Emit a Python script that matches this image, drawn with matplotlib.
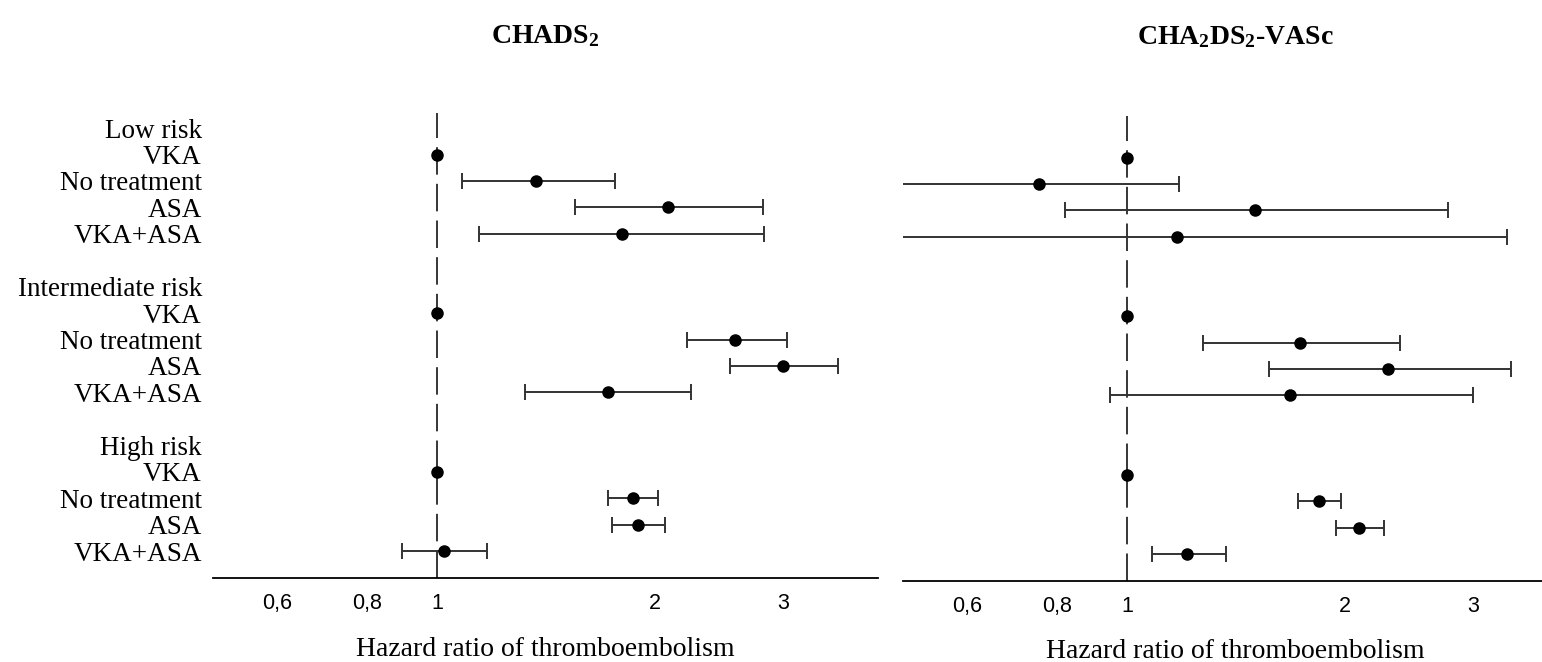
import matplotlib.pyplot as plt
import numpy as np

nan = np.nan

# blank strings are the spacer rows between risk groups
row_labels = ["Low risk", "VKA", "No treatment", "ASA", "VKA+ASA", "",
              "Intermediate risk", "VKA", "No treatment", "ASA", "VKA+ASA", "",
              "High risk", "VKA", "No treatment", "ASA", "VKA+ASA"]

chads_hr = [nan, 1.0, 1.37, 2.08, 1.80, nan, nan, 1.0, 2.58, 3.00, 1.72, nan, nan, 1.0, 1.86, 1.89, 1.02]
chads_lo = [nan, nan, 1.08, 1.55, 1.14, nan, nan, nan, 2.21, 2.54, 1.32, nan, nan, nan, 1.72, 1.74, 0.895]
chads_hi = [nan, nan, 1.76, 2.82, 2.83, nan, nan, nan, 3.04, 3.57, 2.24, nan, nan, nan, 2.02, 2.06, 1.17]

vasc_hr = [nan, 1.0, 0.754, 1.50, 1.17, nan, nan, 1.0, 1.73, 2.29, 1.68, nan, nan, 1.0, 1.84, 2.09, 1.21]
vasc_lo = [nan, nan, 0.45, 0.821, 0.42, nan, nan, nan, 1.27, 1.57, 0.947, nan, nan, nan, 1.72, 1.94, 1.08]
vasc_hi = [nan, nan, 1.18, 2.77, 3.34, nan, nan, nan, 2.38, 3.39, 3.00, nan, nan, nan, 1.97, 2.26, 1.37]

tick_values = [0.6, 0.8, 1, 2, 3]
tick_labels = ["0,6", "0,8", "1", "2", "3"]

serif = "Liberation Serif"
sans = ["Liberation Sans Narrow", "Liberation Sans"]
plt.rcParams["mathtext.fontset"] = "custom"
plt.rcParams["mathtext.rm"] = "Liberation Serif"
plt.rcParams["mathtext.bf"] = "Liberation Serif:bold"

W, H = 1542, 662
fig = plt.figure(figsize=(W / 100, H / 100), dpi=100)


def panel(rect, hr, lo, hi, title, show_labels, title_pad):
    ax = fig.add_axes(rect)
    y = np.arange(len(row_labels))
    hr = np.array(hr)
    lo = np.array(lo)
    hi = np.array(hi)
    ax.axvline(1, color="black", lw=1.1, ls=(0, (18, 6)), zorder=1)
    err = np.vstack([hr - lo, hi - hr])
    ax.errorbar(hr, y, xerr=err, fmt="o", color="black", ecolor="#333333",
                elinewidth=1.4, capsize=5.5, capthick=1.4, markersize=8, zorder=3)
    ax.set_xscale("log")
    ax.set_xlim(0.49, 4.06)
    ax.set_ylim(len(row_labels) - 1 + 1.02, -0.57)
    ax.set_xticks(tick_values)
    ax.set_xticklabels(tick_labels, family=sans, fontsize=15.5)
    ax.xaxis.set_minor_locator(plt.NullLocator())
    ax.tick_params(axis="x", length=0, pad=11)
    if show_labels:
        ax.set_yticks(y)
        ax.set_yticklabels(row_labels, family=serif, fontsize=19.5)
        ax.tick_params(axis="y", length=0, pad=8)
    else:
        ax.set_yticks([])
    for s in ["top", "right", "left"]:
        ax.spines[s].set_visible(False)
    ax.spines["bottom"].set_linewidth(1.3)
    ax.set_xlabel("Hazard ratio of thromboembolism", family=serif, fontsize=20, labelpad=16)
    ax.set_title(title, family=serif, fontsize=20, fontweight="bold", pad=title_pad)
    return ax


bottom = 1 - 578 / H
height = (578 - 113) / H
panel([213 / W, bottom, 665 / W, height], chads_hr, chads_lo, chads_hi,
      r"CHADS$\mathbf{_2}$", True, 50)
panel([903 / W, bottom - 3 / H, 665 / W, height], vasc_hr, vasc_lo, vasc_hi,
      r"CHA$\mathbf{_2}$DS$\mathbf{_2}$-VASc", False, 52)

fig.savefig("out.png", dpi=100)
